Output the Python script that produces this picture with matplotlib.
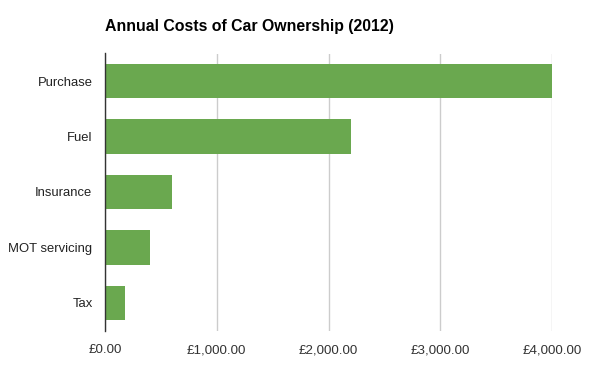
import matplotlib
matplotlib.use("Agg")
import matplotlib.pyplot as plt

categories = ["Purchase", "Fuel", "Insurance", "MOT servicing", "Tax"]
costs = [4000, 2200, 600, 400, 175]
xticks = [0, 1000, 2000, 3000, 4000]
xtick_labels = ["£0.00", "£1,000.00", "£2,000.00", "£3,000.00", "£4,000.00"]

plt.rcParams["font.family"] = ["Liberation Sans", "DejaVu Sans"]

fig = plt.figure(figsize=(6.0, 3.71), dpi=100)
ax = fig.add_axes([105 / 600, 1 - 330.5 / 371, 447 / 600, 277 / 371])

pos = list(range(len(categories)))
ax.barh(pos, costs, height=0.62, color="#6aa84f", zorder=2)
ax.set_ylim(len(categories) - 0.5, -0.5)
ax.set_xlim(0, 4000)
ax.set_yticks(pos)
ax.set_yticklabels(categories, fontsize=9.4, color="#222222")
ax.set_xticks(xticks)
ax.set_xticklabels(xtick_labels, fontsize=9.6, color="#333333")
ax.tick_params(axis="x", length=0, pad=10)
ax.tick_params(axis="y", length=0, pad=9)
ax.grid(axis="x", color="#cccccc", linewidth=1, zorder=0)
for s in ("top", "right", "bottom"):
    ax.spines[s].set_visible(False)
ax.spines["left"].set_color("#333333")
ax.spines["left"].set_linewidth(1)
ax.spines["left"].set_zorder(3)

fig.text(105 / 600, 1 - 26 / 371, "Annual Costs of Car Ownership (2012)",
         fontsize=11.4, fontweight="bold", va="center", ha="left")

fig.savefig("out.png", dpi=100)
